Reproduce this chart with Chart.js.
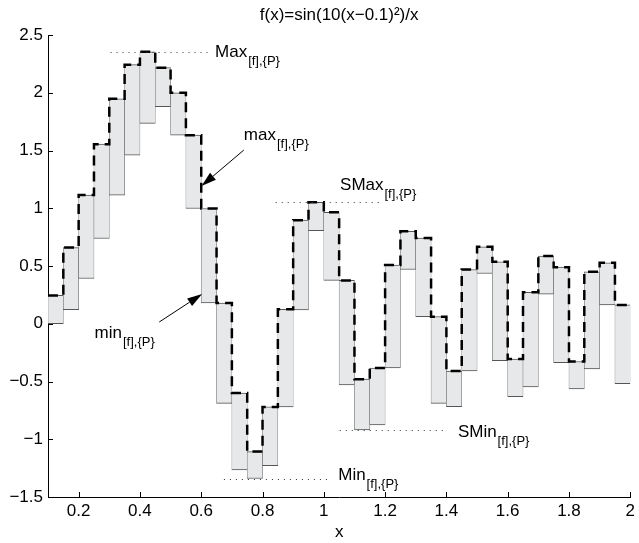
<!DOCTYPE html>
<html>
<head>
<meta charset="utf-8">
<script src="https://cdn.jsdelivr.net/npm/chart.js@4.4.1/dist/chart.umd.min.js"></script>
<style>
    html, body { margin: 0; padding: 0; background: #ffffff; }
    #wrap { width: 639px; height: 543px; position: relative; }
</style>
</head>
<body>
<div id="wrap"><canvas id="boundsChart"></canvas></div>
<script>
// partition P of [0.1, 2]
const xEdges = [0.10, 0.15, 0.20, 0.25, 0.30, 0.35, 0.40, 0.45, 0.50, 0.55,
                0.60, 0.65, 0.70, 0.75, 0.80, 0.85, 0.90, 0.95, 1.00, 1.05,
                1.10, 1.15, 1.20, 1.25, 1.30, 1.35, 1.40, 1.45, 1.50, 1.55,
                1.60, 1.65, 1.70, 1.75, 1.80, 1.85, 1.90, 1.95, 2.00];

// upper bound of [f] on each sub-interval (dashed step)
const upperVals = [0.245, 0.66, 1.114, 1.555, 1.948, 2.243, 2.355, 2.217, 2.0, 1.633,
                   0.998, 0.18, -0.60, -1.107, -0.72, 0.125, 0.897, 1.052, 0.965, 0.375,
                   -0.48, -0.383, 0.508, 0.80, 0.742, 0.061, -0.409, 0.47, 0.667, 0.537,
                   -0.305, 0.272, 0.586, 0.49, -0.327, 0.45, 0.528, 0.163];

// lower bound of [f] on each sub-interval
const lowerVals = [0, 0.122, 0.392, 0.738, 1.114, 1.46, 1.735, 1.879, 1.633, 0.998,
                   0.18, -0.69, -1.266, -1.34, -1.228, -0.72, 0.12, 0.805, 0.375, -0.53,
                   -0.92, -0.875, -0.383, 0.47, 0.061, -0.69, -0.717, -0.409, 0.435, -0.319,
                   -0.632, -0.548, 0.256, -0.337, -0.565, -0.391, 0.163, -0.519];

const xTickVals = [0.2, 0.4, 0.6, 0.8, 1, 1.2, 1.4, 1.6, 1.8, 2];
const yTickVals = [-1.5, -1, -0.5, 0, 0.5, 1, 1.5, 2, 2.5];

const chartFont = '"Liberation Sans", Arial, Helvetica, sans-serif';

// levels marked with dotted leaders
const maxLevel = Math.max(...upperVals);
const minLevel = Math.min(...lowerVals);
const sMaxLevel = upperVals[17];
const sMinLevel = lowerVals[20];

// annotation layout (data units)
const leaders = [
    { y: maxLevel, x0: 0.304, x1: 0.635 },
    { y: sMaxLevel, x0: 0.843, x1: 1.193 },
    { y: sMinLevel, x0: 1.052, x1: 1.397 },
    { y: minLevel, x0: 0.674, x1: 1.024 }
];
const labels = [
    { main: 'Max', sub: '[f],{P}', x: 0.645, y: 2.312 },
    { main: 'SMax', sub: '[f],{P}', x: 1.053, y: 1.154 },
    { main: 'SMin', sub: '[f],{P}', x: 1.4375, y: -0.981 },
    { main: 'Min', sub: '[f],{P}', x: 1.047, y: -1.357 },
    { main: 'max', sub: '[f],{P}', x: 0.739, y: 1.591 },
    { main: 'min', sub: '[f],{P}', x: 0.252, y: -0.123 }
];
const arrows = [
    { from: [0.739, 1.504], to: [0.601, 1.193] },
    { from: [0.463, 0.015], to: [0.603, 0.258] }
];

// floating bars: one patch per sub-interval
const patches = lowerVals.map(function (lo, i) {
    return { x: (xEdges[i] + xEdges[i + 1]) / 2, y: [lo, upperVals[i]] };
});

// step line over the upper bounds
const maxSteps = [];
upperVals.forEach(function (v, i) {
    maxSteps.push({ x: xEdges[i], y: v });
    maxSteps.push({ x: xEdges[i + 1], y: v });
});

function fmtTick(v) {
    return String(Number(v.toFixed(2))).replace('-', '\u2212');
}

const annotatePlugin = {
    id: 'annotate',
    afterDraw: function (chart) {
        const ctx = chart.ctx;
        const xs = chart.scales.x;
        const ys = chart.scales.y;
        const area = chart.chartArea;
        ctx.save();

        // tick marks pointing inwards
        ctx.strokeStyle = '#000';
        ctx.lineWidth = 1;
        ctx.beginPath();
        xs.ticks.forEach(function (t) {
            const px = Math.round(xs.getPixelForValue(t.value)) + 0.5;
            ctx.moveTo(px, area.bottom);
            ctx.lineTo(px, area.bottom - 5);
        });
        ys.ticks.forEach(function (t) {
            const py = Math.round(ys.getPixelForValue(t.value)) + 0.5;
            ctx.moveTo(area.left, py);
            ctx.lineTo(area.left + 5, py);
        });
        ctx.stroke();

        // dotted leaders
        ctx.setLineDash([1, 5]);
        ctx.strokeStyle = '#333';
        leaders.forEach(function (l) {
            const py = Math.round(ys.getPixelForValue(l.y)) + 0.5;
            ctx.beginPath();
            ctx.moveTo(xs.getPixelForValue(l.x0), py);
            ctx.lineTo(xs.getPixelForValue(l.x1), py);
            ctx.stroke();
        });
        ctx.setLineDash([]);

        // arrows
        ctx.strokeStyle = '#000';
        ctx.fillStyle = '#000';
        arrows.forEach(function (a) {
            const x0 = xs.getPixelForValue(a.from[0]), y0 = ys.getPixelForValue(a.from[1]);
            const x1 = xs.getPixelForValue(a.to[0]), y1 = ys.getPixelForValue(a.to[1]);
            const ang = Math.atan2(y1 - y0, x1 - x0);
            const len = 15, half = 4.5;
            const bx = x1 - len * Math.cos(ang), by = y1 - len * Math.sin(ang);
            ctx.beginPath();
            ctx.moveTo(x0, y0);
            ctx.lineTo(bx, by);
            ctx.stroke();
            ctx.beginPath();
            ctx.moveTo(x1, y1);
            ctx.lineTo(bx + half * Math.sin(ang), by - half * Math.cos(ang));
            ctx.lineTo(bx - half * Math.sin(ang), by + half * Math.cos(ang));
            ctx.closePath();
            ctx.fill();
        });

        // labels with subscripts
        ctx.textBaseline = 'alphabetic';
        ctx.textAlign = 'left';
        labels.forEach(function (l) {
            const px = xs.getPixelForValue(l.x);
            const py = ys.getPixelForValue(l.y);
            ctx.font = '17px ' + chartFont;
            ctx.fillText(l.main, px, py);
            const w = ctx.measureText(l.main).width;
            ctx.font = '13px ' + chartFont;
            ctx.fillText(l.sub, px + w + 1, py + 8);
        });

        ctx.restore();
    }
};

new Chart(document.getElementById('boundsChart'), {
    type: 'bar',
    data: {
        datasets: [{
            type: 'line',
            label: 'max',
            data: maxSteps,
            borderColor: '#000000',
            borderWidth: 2.5,
            borderDash: [10, 6],
            pointRadius: 0,
            fill: false,
            tension: 0,
            order: 0
        }, {
            type: 'bar',
            label: 'enclosure',
            data: patches,
            backgroundColor: '#e7e8e9',
            borderColor: '#555555',
            borderWidth: { left: 0.5, right: 0.5, top: 1, bottom: 1 },
            borderSkipped: false,
            barPercentage: 1,
            categoryPercentage: 1,
            grouped: false,
            order: 1
        }]
    },
    options: {
        responsive: true,
        maintainAspectRatio: false,
        animation: false,
        layout: { padding: 0 },
        plugins: {
            legend: { display: false },
            tooltip: { enabled: false },
            title: {
                display: true,
                fullSize: false,
                text: 'f(x)=sin(10(x\u22120.1)\u00B2)/x',
                color: '#000',
                font: { family: chartFont, size: 17, weight: 'normal' },
                padding: { top: 5, bottom: 9.6 }
            }
        },
        scales: {
            x: {
                type: 'linear',
                min: 0.1,
                max: 2,
                offset: false,
                grid: { display: false, drawTicks: false, tickLength: 0, offset: false },
                border: { display: true, color: '#000', width: 1 },
                afterBuildTicks: function (scale) {
                    scale.ticks = xTickVals.map(function (v) { return { value: v }; });
                },
                afterFit: function (scale) { scale.height = 46; },
                ticks: {
                    color: '#000',
                    padding: 4,
                    autoSkip: false,
                    maxRotation: 0,
                    font: { family: chartFont, size: 17 },
                    callback: function (v) { return fmtTick(v); }
                },
                title: {
                    display: true,
                    text: 'x',
                    color: '#000',
                    padding: { top: 0, bottom: 0 },
                    font: { family: chartFont, size: 17 }
                }
            },
            y: {
                type: 'linear',
                min: -1.5,
                max: 2.5,
                grid: { display: false, drawTicks: false, tickLength: 0 },
                border: { display: true, color: '#000', width: 1 },
                afterBuildTicks: function (scale) {
                    scale.ticks = yTickVals.map(function (v) { return { value: v }; });
                },
                afterFit: function (scale) { scale.width = 48; },
                ticks: {
                    color: '#000',
                    padding: 5,
                    autoSkip: false,
                    font: { family: chartFont, size: 17 },
                    callback: function (v) { return fmtTick(v); }
                }
            }
        }
    },
    plugins: [annotatePlugin]
});
</script>
</body>
</html>
